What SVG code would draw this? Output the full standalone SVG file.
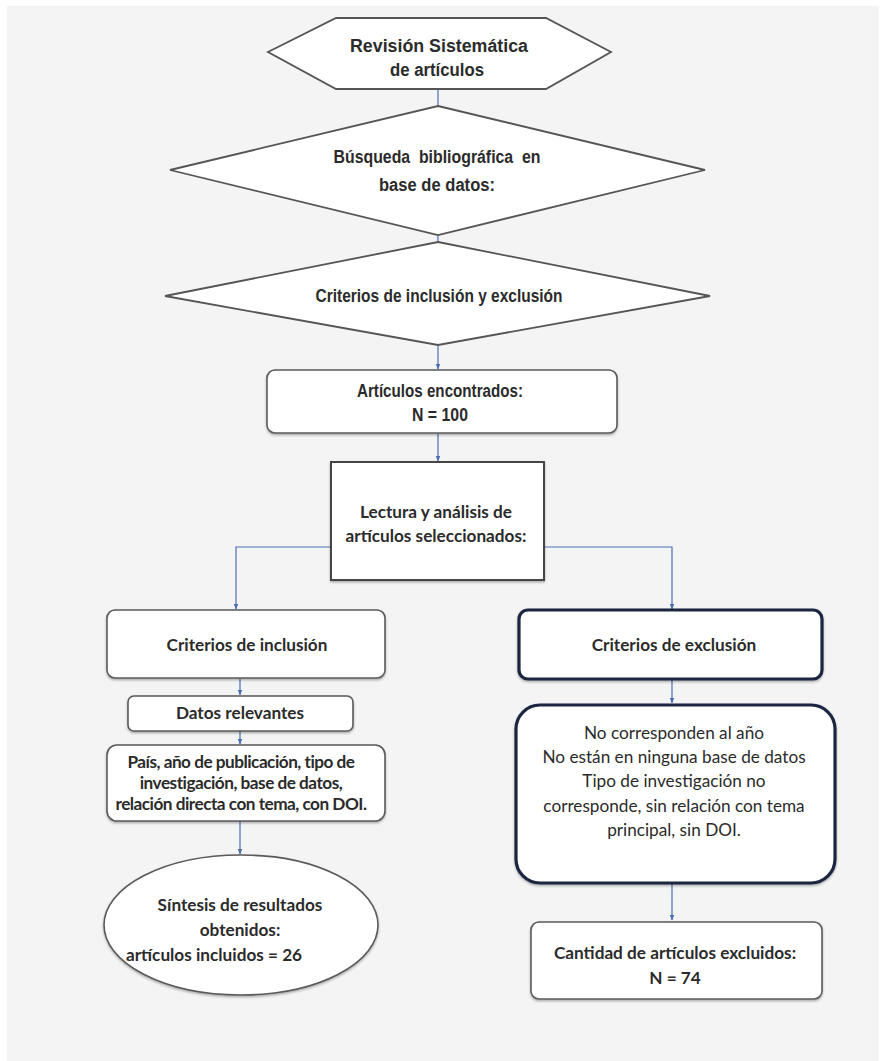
<svg xmlns="http://www.w3.org/2000/svg" width="881" height="1061" viewBox="0 0 881 1061">
<defs>
<marker id="arr" viewBox="0 0 10 10" refX="9" refY="5" markerWidth="6" markerHeight="6" orient="auto" markerUnits="userSpaceOnUse">
<path d="M0,1 L10,5 L0,9 z" fill="#4a6fb5"/>
</marker>
<filter id="sh" x="-5%" y="-5%" width="110%" height="115%">
<feDropShadow dx="0" dy="1.5" stdDeviation="1" flood-color="#000" flood-opacity="0.3"/>
</filter>
</defs>
<style>
.n{font-family:"Liberation Sans",Arial,sans-serif;font-weight:bold;fill:#2b2b2b;text-anchor:middle;font-size:18px}
.c{font-family:Lato,"Open Sans",sans-serif;font-weight:bold;fill:#2b2b2b;text-anchor:middle;font-size:17.2px}
.r{font-family:Lato,"Open Sans",sans-serif;font-weight:normal;fill:#2b2b2b;text-anchor:middle;font-size:17.2px}
.shape{fill:#fff;stroke:#555;stroke-width:1.8}
.box{fill:#fff;stroke:#5a5a5a;stroke-width:1.6;filter:url(#sh)}
.dark{fill:#fff;stroke:#1c2640;stroke-width:3.2;filter:url(#sh)}
.con{fill:none;stroke:#4a6fb5;stroke-width:1.2}
</style>
<rect x="0" y="0" width="881" height="1061" fill="#ffffff"/>
<rect x="7" y="6" width="872" height="1055" fill="#f4f4f4"/>

<g id="connectors">
<line class="con" x1="438" y1="90" x2="438" y2="106"/>
<line class="con" x1="438" y1="235" x2="438" y2="242"/>
<line class="con" x1="438" y1="345" x2="438" y2="369" marker-end="url(#arr)"/>
<line class="con" x1="438" y1="434" x2="438" y2="461" marker-end="url(#arr)"/>
<polyline class="con" points="331,547 236,547 236,609" marker-end="url(#arr)"/>
<polyline class="con" points="544,547 672,547 672,609" marker-end="url(#arr)"/>
<line class="con" x1="240" y1="679" x2="240" y2="695" marker-end="url(#arr)"/>
<line class="con" x1="240" y1="731" x2="240" y2="744" marker-end="url(#arr)"/>
<line class="con" x1="240" y1="821" x2="240" y2="854" marker-end="url(#arr)"/>
<line class="con" x1="672" y1="680" x2="672" y2="703" marker-end="url(#arr)"/>
<line class="con" x1="672" y1="884" x2="672" y2="920" marker-end="url(#arr)"/>
</g>

<g id="revision">
<polygon class="shape" points="268,52 336,18 546,18 611,52 546,89 336,89"/>
<text class="n" x="439" y="52" textLength="178" lengthAdjust="spacingAndGlyphs">Revisión Sistemática</text>
<text class="n" x="437" y="76" textLength="94" lengthAdjust="spacingAndGlyphs">de artículos</text>
</g>

<g id="busqueda">
<polygon class="shape" points="438,106 705,170 438,235 170,170"/>
<text class="n" x="437" y="163" word-spacing="5" textLength="207" lengthAdjust="spacingAndGlyphs">Búsqueda bibliográfica en</text>
<text class="n" x="437" y="191" textLength="116" lengthAdjust="spacingAndGlyphs">base de datos:</text>
</g>

<g id="criterios">
<polygon class="shape" points="438,242 710,296 438,345 165,296"/>
<text class="n" x="439" y="302" textLength="247" lengthAdjust="spacingAndGlyphs">Criterios de inclusión y exclusión</text>
</g>

<g id="encontrados">
<rect class="box" x="267" y="370" width="350" height="63" rx="8"/>
<text class="n" x="440" y="397" textLength="166" lengthAdjust="spacingAndGlyphs">Artículos encontrados:</text>
<text class="n" x="440" y="421" textLength="56" lengthAdjust="spacingAndGlyphs">N = 100</text>
</g>

<g id="lectura">
<rect class="box" x="331" y="462" width="213" height="118" rx="0" style="stroke:#444;stroke-width:2"/>
<text class="c" x="436" y="518">Lectura y análisis de</text>
<text class="c" x="436" y="542">artículos seleccionados:</text>
</g>

<g id="inclusion">
<rect class="box" x="107" y="610" width="278" height="68" rx="8"/>
<text class="c" x="247" y="651">Criterios de inclusión</text>
</g>

<g id="exclusion">
<rect class="dark" x="519" y="610" width="303" height="69" rx="9"/>
<text class="c" x="674" y="651">Criterios de exclusión</text>
</g>

<g id="datos">
<rect class="box" x="128" y="696" width="225" height="35" rx="6"/>
<text class="c" x="240" y="719">Datos relevantes</text>
</g>

<g id="pais">
<rect class="box" x="107" y="745" width="278" height="76" rx="10"/>
<text class="c" x="241" y="768" font-size="14" letter-spacing="-0.5">País, año de publicación, tipo de</text>
<text class="c" x="241" y="789" font-size="14" letter-spacing="-0.5">investigación, base de datos,</text>
<text class="c" x="241" y="810" font-size="14" letter-spacing="-0.5">relación directa con tema, con DOI.</text>
</g>

<g id="sintesis">
<ellipse class="box" cx="241" cy="925" rx="137" ry="70"/>
<text class="c" x="240" y="911">Síntesis de resultados</text>
<text class="c" x="240" y="936">obtenidos:</text>
<text class="c" x="214" y="961">artículos incluidos = 26</text>
</g>

<g id="detalle">
<rect class="dark" x="516" y="705" width="319" height="178" rx="24"/>
<text class="r" x="674" y="739">No corresponden al año</text>
<text class="r" x="674" y="763">No están en ninguna base de datos</text>
<text class="r" x="674" y="787">Tipo de investigación no</text>
<text class="r" x="674" y="812">corresponde, sin relación con tema</text>
<text class="r" x="674" y="836">principal, sin DOI.</text>
</g>

<g id="excluidos">
<rect class="box" x="531" y="922" width="291" height="77" rx="8"/>
<text class="c" x="675" y="959">Cantidad de artículos excluidos:</text>
<text class="c" x="675" y="984">N = 74</text>
</g>
</svg>
